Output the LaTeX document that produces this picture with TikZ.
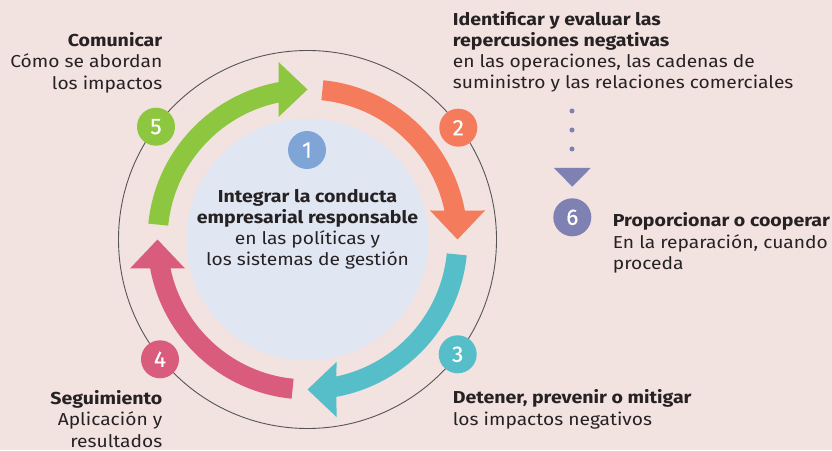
\documentclass[tikz,border=0pt]{standalone}
\usepackage{fontspec}
\setmainfont{Fira Sans}[FakeStretch=1.11, BoldFeatures={FakeStretch=1.13}]
\newfontfamily\digitfont{Fira Sans}[FakeBold=0.5]
\definecolor{bg}{RGB}{242,226,224}
\definecolor{ink}{RGB}{38,34,35}
\definecolor{ringc}{RGB}{85,85,85}
\definecolor{orangeC}{RGB}{244,123,91}
\definecolor{cyanC}{RGB}{86,190,201}
\definecolor{pinkC}{RGB}{217,92,124}
\definecolor{greenC}{RGB}{141,198,63}
\definecolor{blueC}{RGB}{127,164,214}
\definecolor{innerC}{RGB}{224,231,243}
\definecolor{purpleC}{RGB}{126,129,178}
\newcommand{\cyclearrow}[2]{%
  \begin{scope}[shift={(307.5,210.5)}, rotate=#1]
    \fill[#2] (84.3:160) arc[start angle=84.3, end angle=10.44, radius=160]
      -- (177.5,29) -- (150,0) -- (122.5,29) -- (11.95:140)
      arc[start angle=11.95, end angle=84.3, radius=140] -- cycle;
  \end{scope}}
\begin{document}
\begin{tikzpicture}[x=1pt,y=1pt,
  txt/.style={font=\fontsize{17.3}{21.3}\selectfont, text=ink, inner sep=0pt},
  num/.style={circle, minimum size=38pt, inner sep=0pt, text=white, font=\digitfont\fontsize{22.5}{22.5}\selectfont}]
\useasboundingbox (0,0) rectangle (832,450);
\fill[bg] (0,0) rectangle (832,450);
% outer ring and inner disc
\coordinate (c) at (307.5,210.5);
\draw[ringc, line width=0.9pt] (c) circle[radius=189];
\fill[innerC] (c) circle[radius=121];
% cycle arrows
\cyclearrow{0}{orangeC}
\cyclearrow{-90}{cyanC}
\cyclearrow{-180}{pinkC}
\cyclearrow{90}{greenC}
% number badges
\node[num, fill=blueC] (n1) at (307,300) {1};
\node[num, fill=orangeC] (n2) at (458.3,322.3) {2};
\node[num, fill=cyanC] (n3) at (457.7,95.7) {3};
\node[num, fill=pinkC] (n4) at (160,90.7) {4};
\node[num, fill=greenC] (n5) at (156,323.3) {5};
\node[num, fill=purpleC] (n6) at (572.3,232.7) {6};
% dotted link to step 6
\coordinate (d0) at (572,339);
\coordinate (d1) at (572,282);
\draw[purpleC, line width=5pt, line cap=round, dash pattern=on 0pt off 19pt] (d0) -- (d1);
\fill[purpleC] (554,282) -- (590.7,282) -- (572.3,263.3) -- cycle;
% texts (base anchor = baseline of the last line)
\node[txt, anchor=base, align=center] (t1) at (307.5,184)
  {\textbf{Integrar la conducta}\\\textbf{empresarial responsable}\\en las políticas y\\los sistemas de gestión};
\node[txt, anchor=base west, align=left] (t2) at (452.7,361)
  {\textbf{Identificar y evaluar las}\\\textbf{repercusiones negativas}\\en las operaciones, las cadenas de\\suministro y las relaciones comerciales};
\node[txt, anchor=base west, align=left] (t3) at (452.7,25)
  {\textbf{Detener, prevenir o mitigar}\\los impactos negativos};
\node[txt, anchor=base east, align=right] (t4) at (162.5,3)
  {\textbf{Seguimiento}\\Aplicación y\\resultados};
\node[txt, anchor=base east, align=right] (t5) at (162.5,360.7)
  {\textbf{Comunicar}\\Cómo se abordan\\los impactos};
\node[txt, anchor=base west, align=left] (t6) at (612.7,180.5)
  {\textbf{Proporcionar o cooperar}\\En la reparación, cuando\\proceda};
\end{tikzpicture}
\end{document}
